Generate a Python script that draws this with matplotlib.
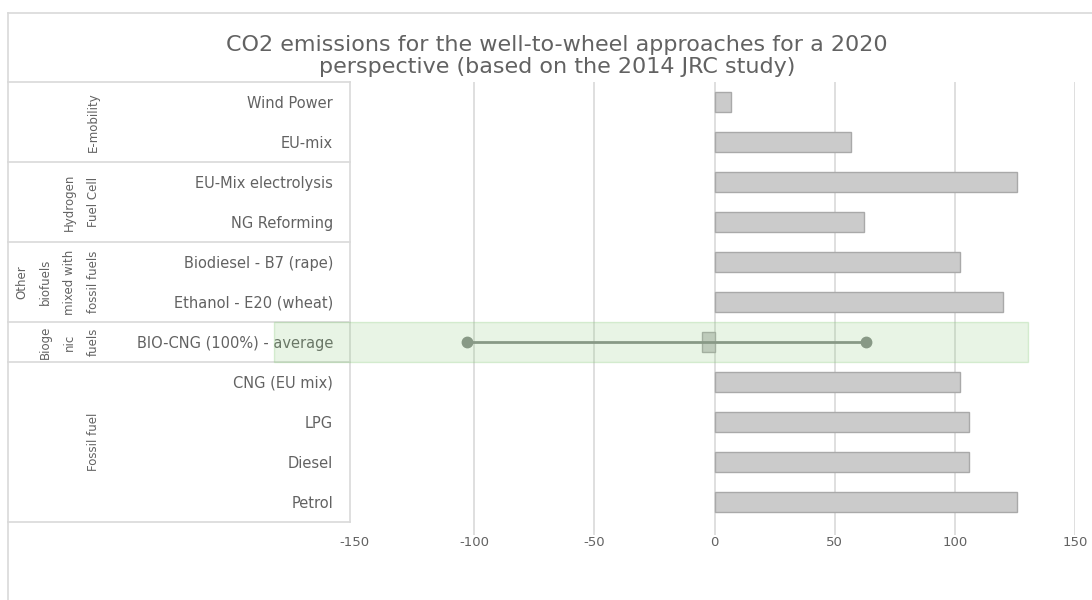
import numpy as np
import matplotlib.pyplot as plt
import matplotlib.transforms as mtransforms
from matplotlib.patches import Rectangle
from matplotlib.lines import Line2D

plt.rcParams['font.family'] = ['DejaVu Sans']
plt.rcParams['axes.unicode_minus'] = False

# Data (top to bottom)
categories = ['Wind Power', 'EU-mix', 'EU-Mix electrolysis', 'NG Reforming',
              'Biodiesel - B7 (rape)', 'Ethanol - E20 (wheat)',
              'BIO-CNG (100%) - average', 'CNG (EU mix)', 'LPG', 'Diesel', 'Petrol']
values = [7, 57, 126, 62, 102, 120, -5, 102, 106, 106, 126]

# group labels and how many categories each spans
groups = ['E-mobility', 'Hydrogen\nFuel Cell', 'Other\nbiofuels\nmixed with\nfossil fuels',
          'Bioge\nnic\nfuels', 'Fossil fuel']
group_sizes = [2, 2, 2, 1, 4]

# BIO-CNG range
bio_label = 'BIO-CNG (100%) - average'
bio_low = -103
bio_high = 63

xticks = [-150, -100, -50, 0, 50, 100, 150]

text_col = '#626262'
line_col = '#d9d9d9'

fig = plt.figure(figsize=(10.92, 6), dpi=100)
W, H = 1092, 600
ax = fig.add_axes([354 / W, 1 - 535 / H, (1075 - 354) / W, (535 - 82) / H])

y = np.arange(len(categories))
ax.barh(y, values, height=0.5, color='#cbcbcb', edgecolor='#a9a9a9', linewidth=1, zorder=3)

bio_row = categories.index(bio_label)
ax.plot([bio_low, bio_high], [bio_row, bio_row], '-o', color='#888d89',
        linewidth=2, markersize=7.5, zorder=4)

ax.set_xlim(-150, 150)
ax.set_ylim(len(categories) - 1 + 0.825, -0.5)
ax.set_xticks(xticks)
ax.set_yticks(y, categories)
ax.tick_params(axis='x', length=0, pad=1, colors=text_col, labelsize=9.5)
ax.tick_params(axis='y', length=0, pad=15, colors=text_col, labelsize=10.5)
for s in ax.spines.values():
    s.set_visible(False)
ax.grid(axis='x', color=line_col, linewidth=1.2, zorder=0)
ax.get_xgridlines()[0].set_visible(False)

# label table lines
trans = mtransforms.blended_transform_factory(fig.transFigure, ax.transData)
x0, x1 = 8 / W, 350 / W
bounds = np.concatenate([[0], np.cumsum(group_sizes)]) - 0.5
for b in bounds:
    fig.add_artist(Line2D([x0, x1], [b, b], transform=trans, color=line_col, linewidth=1.2))
fig.add_artist(Line2D([x1, x1], [bounds[0], bounds[-1]], transform=trans, color=line_col, linewidth=1.2))

# group labels
starts = bounds[:-1]
for g, st, n in zip(groups, starts, group_sizes):
    ax.text(100 / W, st + n / 2, g, transform=trans, rotation=90, ha='right', va='center',
            multialignment='center', fontsize=8.5, color=text_col, linespacing=2.1,
            family=['Liberation Sans Narrow', 'DejaVu Sans'])

# chart border
fig.add_artist(Line2D([8 / W, 8 / W], [0, 1 - 13 / H], transform=fig.transFigure, color=line_col, linewidth=1.2))
fig.add_artist(Line2D([8 / W, 1], [1 - 13 / H, 1 - 13 / H], transform=fig.transFigure, color=line_col, linewidth=1.2))

# title
fig.text(557 / W, 1 - 56 / H,
         'CO2 emissions for the well-to-wheel approaches for a 2020\nperspective (based on the 2014 JRC study)',
         ha='center', va='center', fontsize=16, color=text_col, linespacing=1.15)

# highlight band over BIO-CNG row
band = Rectangle((274 / W, bio_row - 0.49), (1028 - 274) / W, 0.98, transform=trans,
                 facecolor=(0.55, 0.8, 0.49, 0.2), edgecolor=(0.55, 0.8, 0.49, 0.3),
                 linewidth=1, zorder=10)
fig.add_artist(band)

fig.savefig('out.png', dpi=100)
